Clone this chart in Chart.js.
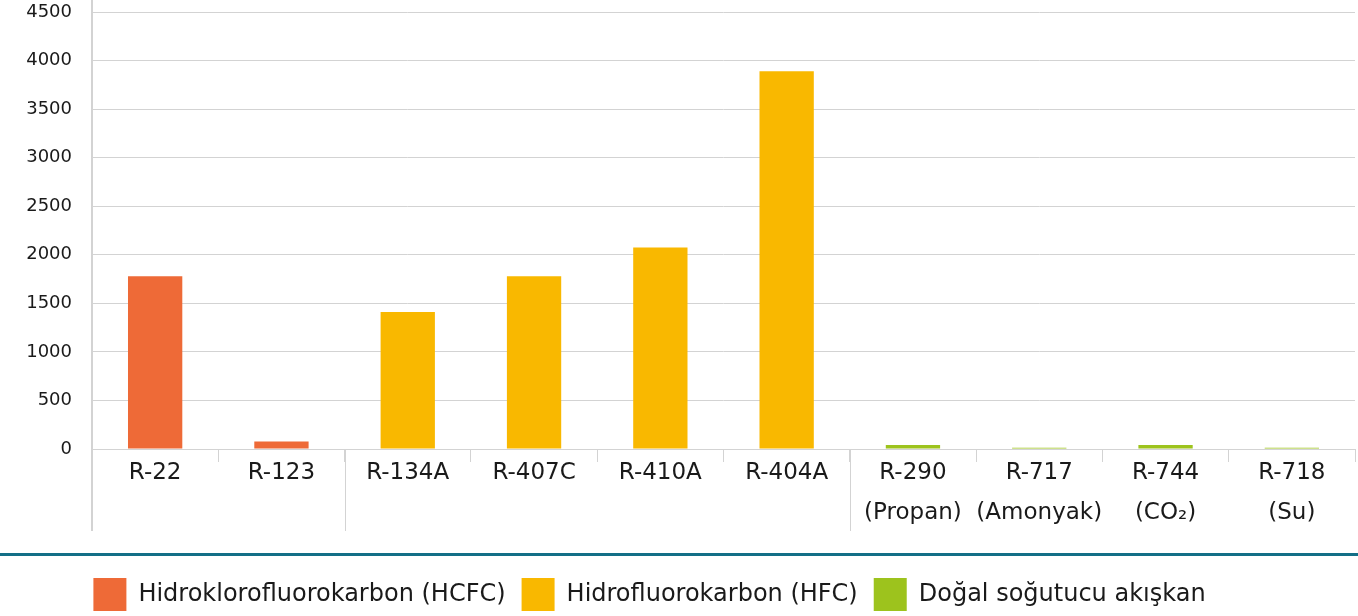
<!DOCTYPE html>
<html>
<head>
<meta charset="utf-8">
<script src="https://cdn.jsdelivr.net/npm/chart.js@4"></script>
<style>
  html, body { margin: 0; padding: 0; background: #fff; }
  #wrap { width: 1358px; height: 616px; }
</style>
</head>
<body>
<div id="wrap"><canvas id="myChart" width="1358" height="616"></canvas></div>
<script>
// categories (second line = common name)
var categories = [
    ["R-22"], ["R-123"], ["R-134A"], ["R-407C"], ["R-410A"], ["R-404A"],
    ["R-290", "(Propan)"], ["R-717", "(Amonyak)"], ["R-744", "(CO₂)"], ["R-718", "(Su)"]
];
// values
var hcfcValues    = [1780, 76, null, null, null, null, null, null, null, null];
var hfcValues     = [null, null, 1410, 1780, 2075, 3890, null, null, null, null];
var naturalValues = [null, null, null, null, null, null, 40, 14, 40, 14];
var seriesNames = ["Hidroklorofluorokarbon (HCFC)", "Hidrofluorokarbon (HFC)", "Doğal soğutucu akışkan"];
var yTicks = [0, 500, 1000, 1500, 2000, 2500, 3000, 3500, 4000, 4500];
// group borders sit before these category indexes
var groupStarts = [0, 2, 6];

var gridGray = '#d3d3d3';

// extra lines: long axis/group separators and the teal rule above the legend
var decorPlugin = {
    id: 'decor',
    afterLayout: function(chart) {
        // nudge legend to where it sits in the picture
        var lg = chart.legend;
        lg.top += 5; lg.bottom += 5;
        lg.left -= 28; lg.right -= 28;
    },
    afterDraw: function(chart) {
        var ctx = chart.ctx;
        var area = chart.chartArea;
        var x = chart.scales.x;
        ctx.save();
        ctx.strokeStyle = gridGray;
        groupStarts.forEach(function(i) {
            var px;
            if (i === 0) px = area.left;
            else px = Math.round((x.getPixelForValue(i - 1) + x.getPixelForValue(i)) / 2) + 0.5;
            ctx.lineWidth = i === 0 ? 2 : 1;
            ctx.beginPath();
            ctx.moveTo(px, i === 0 ? 0 : area.bottom);
            ctx.lineTo(px, 531);
            ctx.stroke();
        });
        // teal line
        ctx.strokeStyle = '#136f87';
        ctx.lineWidth = 3;
        ctx.beginPath();
        ctx.moveTo(0, 554.5);
        ctx.lineTo(chart.width, 554.5);
        ctx.stroke();
        ctx.restore();
    }
};

var ctx = document.getElementById('myChart');
var chart = new Chart(ctx, {
    type: 'bar',
    data: {
        labels: categories,
        datasets: [{
            label: seriesNames[0],
            backgroundColor: '#ee6a37',
            borderWidth: 0,
            data: hcfcValues
        }, {
            label: seriesNames[1],
            backgroundColor: '#f9b800',
            borderWidth: 0,
            data: hfcValues
        }, {
            label: seriesNames[2],
            backgroundColor: '#9dc31d',
            borderWidth: 0,
            data: naturalValues
        }]
    },
    options: {
        responsive: false,
        animation: false,
        devicePixelRatio: 1,
        datasets: {
            bar: { skipNull: true, categoryPercentage: 1, barPercentage: 0.43 }
        },
        layout: { padding: { top: 0, right: 3, left: 0, bottom: 0 } },
        plugins: {
            tooltip: { enabled: false },
            legend: {
                position: 'bottom',
                labels: {
                    boxWidth: 33,
                    boxHeight: 33,
                    padding: 16,
                    color: '#1a1a1a',
                    font: { family: 'DejaVu Sans', size: 24 }
                }
            }
        },
        scales: {
            x: {
                grid: {
                    offset: true,
                    drawOnChartArea: false,
                    tickLength: 13,
                    color: gridGray
                },
                border: { color: gridGray },
                ticks: {
                    color: '#1a1a1a',
                    padding: -9,
                    maxRotation: 0,
                    autoSkip: false,
                    font: { family: 'DejaVu Sans', size: 23, lineHeight: 1.74 }
                },
                afterFit: function(s) { s.height = 108; }
            },
            y: {
                min: 0,
                max: 4500,
                grid: { color: gridGray, drawTicks: false },
                border: { display: false },
                afterBuildTicks: function(s) {
                    s.ticks = yTicks.map(function(v) { return { value: v }; });
                },
                ticks: {
                    color: '#1a1a1a',
                    padding: 20,
                    font: { family: 'DejaVu Sans', size: 18 },
                    callback: function(v) { return String(v); }
                },
                afterFit: function(s) {
                    s.width = 92;
                    s.paddingTop = 12;
                    s.paddingBottom = 0;
                }
            }
        }
    },
    plugins: [decorPlugin]
});
</script>
</body>
</html>
